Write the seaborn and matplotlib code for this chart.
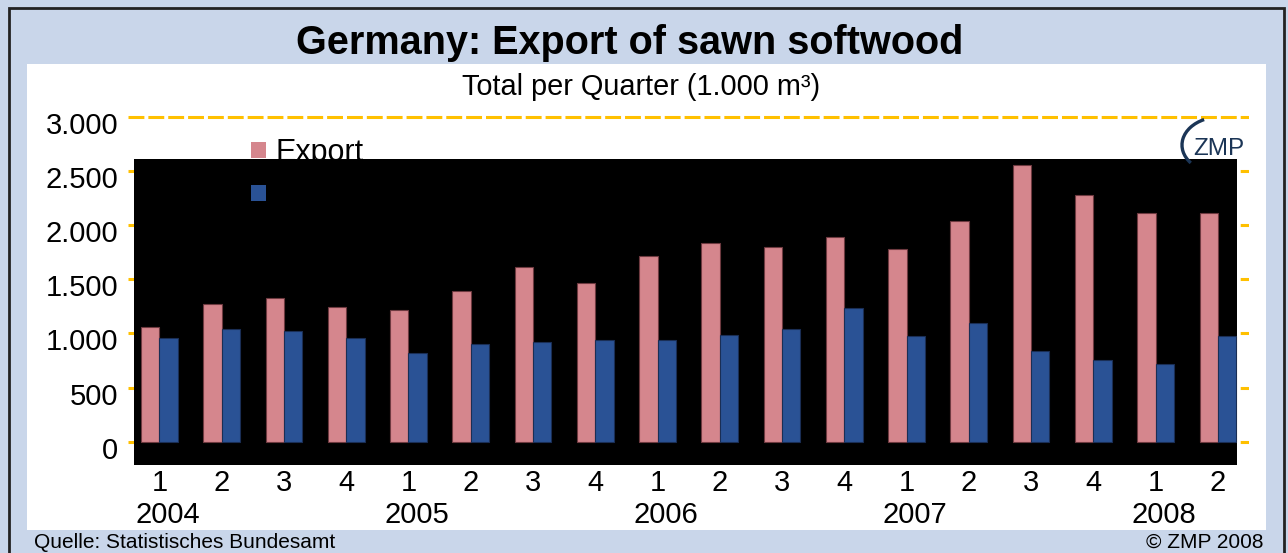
import numpy as np
import pandas as pd
import matplotlib
matplotlib.use('Agg')
import matplotlib.pyplot as plt
import matplotlib.transforms as mtransforms
from matplotlib.patches import Rectangle, Arc
import seaborn as sns

# data (1.000 m3 per quarter)
years = ['2004', '2005', '2006', '2007', '2008']
quarters = ['1', '2', '3', '4', '1', '2', '3', '4', '1', '2', '3', '4',
            '1', '2', '3', '4', '1', '2']
export = [1055, 1275, 1325, 1245, 1215, 1390, 1615, 1465, 1715, 1835,
          1800, 1890, 1780, 2040, 2550, 2280, 2110, 2110]
second = [960, 1040, 1025, 960, 820, 905, 920, 940, 940, 985,
          1040, 1230, 975, 1095, 835, 755, 715, 975]
series_names = ['Export', 'Import']
yticks = [0, 500, 1000, 1500, 2000, 2500, 3000]

pink = '#D5868D'
blue = '#2A5295'
gold = '#FFC000'
bg = '#C9D6EA'

W, H = 1288, 553

df = pd.DataFrame({
    'idx': list(range(len(export))) * 2,
    'value': export + second,
    'series': [series_names[0]] * len(export) + [series_names[1]] * len(second),
})

sns.set_theme(style='white')
plt.rcParams['font.family'] = ['Liberation Sans', 'DejaVu Sans']
plt.rcParams['text.color'] = 'black'
plt.rcParams['ytick.color'] = 'black'

fig = plt.figure(figsize=(W / 100, H / 100), dpi=100, facecolor=bg)

# white panel + outer frame
fig.patches.append(Rectangle((27 / W, 1 - 529.5 / H), (1266 - 27) / W, (529.5 - 64.3) / H,
                             transform=fig.transFigure, facecolor='white', edgecolor='none', zorder=-2))
fig.patches.append(Rectangle((9 / W, -0.1), (1284 - 9) / W, 1 - 8 / H + 0.1,
                             transform=fig.transFigure, fill=False, edgecolor='#222222', lw=2, zorder=-1))

# axes: y=0 at 441.7px, y=3000 at 116.7px, a little headroom so the edge gridlines show
ppu = (441.7 - 116.7) / 3000
pad_u = 50
ax_bottom = 441.7 + pad_u * ppu
ax_top = 116.7 - pad_u * ppu
ax = fig.add_axes([128.3 / W, 1 - ax_bottom / H, (1249 - 128.3) / W, (ax_bottom - ax_top) / H])
ax.set_facecolor('none')

sns.barplot(data=df, x='idx', y='value', hue='series', palette=[pink, blue],
            width=0.59, saturation=1, ax=ax, legend=True)
for p in ax.patches:
    p.set_zorder(2)
    fc = p.get_facecolor()
    p.set_edgecolor('#6E3A40' if fc[0] > 0.6 else '#1A2E55')
    p.set_linewidth(0.8)

ax.set_xlim(-0.5, len(export) - 0.5)
ax.set_ylim(-pad_u, 3000 + pad_u)
ax.set_axisbelow(True)
ax.yaxis.grid(True, color=gold, lw=2.2, linestyle=(0, (5.2, 1.3)))
ax.xaxis.grid(False)
for s in ax.spines.values():
    s.set_visible(False)

ax.set_yticks(yticks, labels=[f'{v:,}'.replace(',', '.') for v in yticks])
ax.tick_params(axis='y', length=0, pad=7.4, labelsize=21, labelcolor='black')
off = mtransforms.ScaledTranslation(0, -6 / 100, fig.dpi_scale_trans)
for lab in ax.get_yticklabels():
    lab.set_transform(lab.get_transform() + off)
ax.set_xticks([])
ax.set_xlabel('')
ax.set_ylabel('')

# black area behind the bars
ax.add_patch(Rectangle((134 / W, 1 - 465 / H), (1237 - 134) / W, (465 - 159) / H,
                       transform=fig.transFigure, facecolor='black', edgecolor='none',
                       zorder=1, clip_on=False))

# quarter and year labels
tr = mtransforms.blended_transform_factory(ax.transData, fig.transFigure)
for i, q in enumerate(quarters):
    ax.text(i, 1 - 490.7 / H, q, transform=tr, ha='center', va='baseline', fontsize=21, color='black')
for k, y in enumerate(years):
    ax.text(k * 4 + 0.13, 1 - 523 / H, y, transform=tr, ha='center', va='baseline', fontsize=21, color='black')

# legend (second label is black on black)
handles, labels = ax.get_legend_handles_labels()
leg = ax.legend(handles, labels, loc='upper left', bbox_to_anchor=(251 / W, 1 - 138 / H),
                bbox_transform=fig.transFigure, frameon=False, fontsize=22,
                handlelength=0.5, handleheight=0.4, handletextpad=0.3, labelspacing=0.42,
                borderpad=0, borderaxespad=0)
leg.set_zorder(5)
for t in leg.get_texts():
    t.set_color('black')
for h in leg.legend_handles:
    h.set_edgecolor('none')

# titles and notes
fig.text(629.5 / W, 1 - 54.3 / H, 'Germany: Export of sawn softwood', ha='center', va='baseline',
         fontsize=28.5, fontweight='bold', color='black')
fig.text(641 / W, 1 - 95 / H, 'Total per Quarter (1.000 m³)', ha='center', va='baseline',
         fontsize=20.8, color='black')
fig.text(34 / W, 1 - 548 / H, 'Quelle: Statistisches Bundesamt', ha='left', va='baseline',
         fontsize=15, color='black')
fig.text(1263 / W, 1 - 548 / H, '© ZMP 2008', ha='right', va='baseline', fontsize=15, color='black')

# ZMP logo
navy = '#1B3556'
fig.text(1193 / W, 1 - 155 / H, 'ZMP', ha='left', va='baseline', fontsize=17.5, color=navy, zorder=6)
fig.patches.append(Arc((1220 / W, 1 - 145 / H), 76 / W, 56 / H, theta1=105, theta2=235,
                       transform=fig.transFigure, color=navy, lw=2.4, zorder=6))

fig.savefig('out.png', dpi=100, facecolor=bg)
